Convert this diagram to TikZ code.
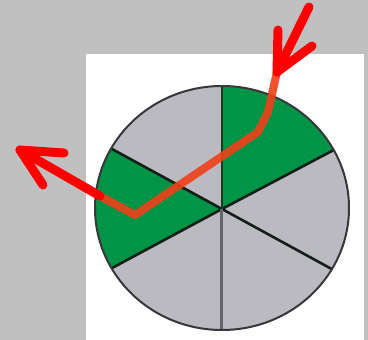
\documentclass[tikz,border=0pt]{standalone}
\begin{document}
\begin{tikzpicture}[x=1pt,y=-1pt,
  redarrow/.style={draw=red,line width=9pt,line cap=round,line join=round},
  redpath/.style={draw={rgb,255:red,240;green,64;blue,24},line width=8pt,line cap=round,line join=round,opacity=0.9},
  spoke/.style={draw={rgb,255:red,20;green,30;blue,25},line width=2.6pt}]
\definecolor{bgc}{RGB}{192,192,192}
\definecolor{sect}{RGB}{186,186,192}
\definecolor{grn}{RGB}{0,148,70}
\useasboundingbox (0,0) rectangle (368,340);
\fill[bgc] (0,0) rectangle (368,340);
\fill[white] (86,54) rectangle (364,340);
\coordinate (O) at (222,209);
\coordinate (UR) at (438,95);
\coordinate (UL) at (2,89);
\coordinate (LL) at (6,325);
\coordinate (LR) at (434,325);
\begin{scope}
\clip (222,208) ellipse [x radius=127, y radius=122];
\fill[sect] (0,0) rectangle (368,340);
\fill[grn] (O) -- (222,0) -- (438,0) -- (UR) -- cycle;
\fill[grn] (O) -- (UL) -- (LL) -- cycle;
\draw[spoke] (O) -- (UR);
\draw[spoke] (O) -- (UL);
\draw[spoke] (O) -- (LL);
\draw[spoke] (O) -- (LR);
\draw[draw={rgb,255:red,16;green,60;blue,35},line width=2.6pt] (O) -- (222,0);
\draw[draw={rgb,255:red,100;green,100;blue,105},line width=3pt] (O) -- (222,340);
\end{scope}
\draw[draw={rgb,255:red,55;green,55;blue,60},line width=2pt] (222,208) ellipse [x radius=127, y radius=122];
% red path
\coordinate (A1) at (309,7);
\coordinate (T1) at (277,72);
\coordinate (P1) at (268,112);
\coordinate (P2) at (258,132);
\coordinate (P3) at (135,215);
\coordinate (S2) at (100,196);
\coordinate (T2) at (20,150);
\draw[redpath] (T1) -- (P1) -- (P2) -- (P3) -- (S2);
\draw[redarrow] (A1) -- (T1);
\draw[redarrow] (278,30) -- (T1) -- (312,46);
\draw[redarrow] (S2) -- (T2);
\draw[redarrow] (64,153) -- (T2) -- (43,185);
\end{tikzpicture}
\end{document}
